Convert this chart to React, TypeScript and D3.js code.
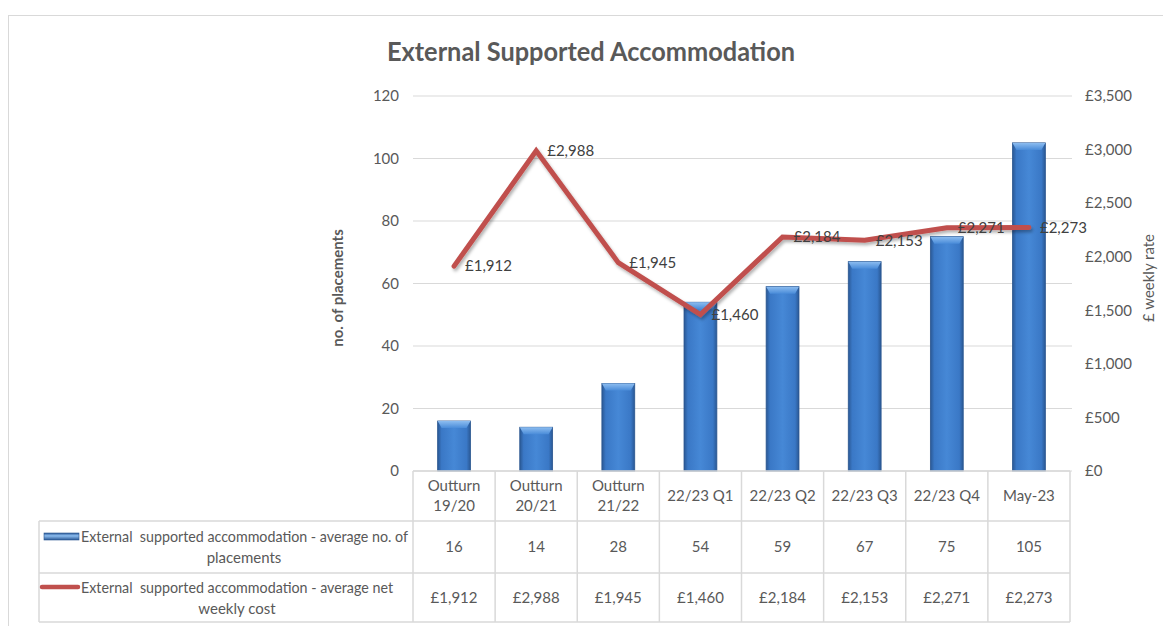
import React from "react";
import * as d3 from "d3";

const categories = [
  ["Outturn", "19/20"],
  ["Outturn", "20/21"],
  ["Outturn", "21/22"],
  ["22/23 Q1"],
  ["22/23 Q2"],
  ["22/23 Q3"],
  ["22/23 Q4"],
  ["May-23"],
];
const placements = [16, 14, 28, 54, 59, 67, 75, 105];
const weeklyCost = [1912, 2988, 1945, 1460, 2184, 2153, 2271, 2273];
const leftTicks = [0, 20, 40, 60, 80, 100, 120];
const rightTicks = [0, 500, 1000, 1500, 2000, 2500, 3000, 3500];
const seriesNames = [
  ["External  supported accommodation - average no. of", "placements"],
  ["External  supported accommodation - average net", "weekly cost"],
];
const title = "External Supported Accommodation";
const leftAxisTitle = "no. of placements";
const rightAxisTitle = "£ weekly rate";

const FONT = "Lato, 'Open Sans', sans-serif";
const TXT = "#595959";
const GRID = "#D9D9D9";

export default function App() {
  const left = 413;
  const right = 1070;
  const top = 96;
  const bottom = 471;
  const keys = categories.map((c) => c.join(" "));
  const x = d3.scaleBand().domain(keys).range([left, right]).padding(0);
  const yL = d3.scaleLinear().domain([0, 120]).range([bottom, top]);
  const yR = d3.scaleLinear().domain([0, 3500]).range([bottom, top]);
  const bw = x.bandwidth() * 0.4;
  const cx = (i: number) => (x(keys[i]) as number) + x.bandwidth() / 2;
  const money = (v: number) => "£" + d3.format(",")(v);

  const line = d3
    .line<number>()
    .x((_, i) => cx(i))
    .y((d) => yR(d));

  const tableLeft = 39;
  const rowTops = [bottom, 521, 573, 622];
  const colEdges = keys.map((k) => x(k) as number).concat([right]);

  return (
    <svg
      width={1163}
      height={626}
      style={{ position: "absolute", left: 0, top: 0, background: "#fff" }}
      fontFamily={FONT}
    >
      <defs>
        <linearGradient id="barGrad" x1="0" x2="1" y1="0" y2="0">
          <stop offset="0%" stopColor="#2A5894" />
          <stop offset="12%" stopColor="#3A78C6" />
          <stop offset="50%" stopColor="#4688D6" />
          <stop offset="88%" stopColor="#3A78C6" />
          <stop offset="100%" stopColor="#2A5894" />
        </linearGradient>
        <linearGradient id="barTop" x1="0" x2="0" y1="0" y2="1">
          <stop offset="0%" stopColor="#8DBDF0" />
          <stop offset="100%" stopColor="#4A8CD9" />
        </linearGradient>
        <linearGradient id="legGrad" x1="0" x2="0" y1="0" y2="1">
          <stop offset="0%" stopColor="#2A5894" />
          <stop offset="40%" stopColor="#8CBDF0" />
          <stop offset="100%" stopColor="#2A5894" />
        </linearGradient>
        <filter id="shadow" x="-10%" y="-10%" width="120%" height="130%">
          <feDropShadow dx="1.5" dy="2.5" stdDeviation="1.5" floodColor="#000" floodOpacity="0.3" />
        </filter>
      </defs>

      <rect x={8.5} y={15.5} width={1170} height={640} fill="#fff" stroke="#D9D9D9" />

      <text
        x={591}
        y={61}
        textAnchor="middle"
        fontSize={26}
        fontWeight="bold"
        fill={TXT}
        textLength={408}
        lengthAdjust="spacingAndGlyphs"
      >
        {title}
      </text>

      {/* gridlines */}
      {leftTicks.map((t) => (
        <line key={t} x1={left} x2={right + 2} y1={yL(t)} y2={yL(t)} stroke={GRID} strokeWidth={1.2} />
      ))}
      {leftTicks.map((t) => (
        <text key={"l" + t} x={399} y={yL(t)} dy="0.35em" textAnchor="end" fontSize={15} fill={TXT}>
          {t}
        </text>
      ))}
      {rightTicks.map((t) => (
        <text key={"r" + t} x={1085} y={yR(t)} dy="0.35em" textAnchor="start" fontSize={15} fill={TXT}>
          {money(t)}
        </text>
      ))}
      <text
        transform={`translate(343,288) rotate(-90)`}
        textAnchor="middle"
        fontSize={15}
        fontWeight="bold"
        fill={TXT}
      >
        {leftAxisTitle}
      </text>
      <text
        transform={`translate(1154,278) rotate(-90)`}
        textAnchor="middle"
        fontSize={15}
        fill={TXT}
      >
        {rightAxisTitle}
      </text>

      {/* bars */}
      {placements.map((v, i) => {
        const bx = cx(i) - bw / 2;
        const by = yL(v);
        const h = bottom - by;
        const bev = Math.min(7, h / 2);
        return (
          <g key={i}>
            <rect x={bx} y={by} width={bw} height={h} fill="url(#barGrad)" stroke="#2A5690" strokeWidth={0.8} />
            <path
              d={`M${bx},${by} L${bx + bw},${by} L${bx + bw - 4},${by + bev} L${bx + 4},${by + bev} Z`}
              fill="url(#barTop)"
            />
          </g>
        );
      })}

      {/* line */}
      <path
        d={line(weeklyCost) as string}
        fill="none"
        stroke="#C0504D"
        strokeWidth={5}
        strokeLinejoin="miter"
        strokeLinecap="round"
        filter="url(#shadow)"
      />
      {weeklyCost.map((v, i) => (
        <text key={"d" + i} x={cx(i) + 11} y={yR(v)} dy="0.35em" fontSize={15} fill="#404040">
          {money(v)}
        </text>
      ))}

      {/* data table */}
      <g stroke={GRID} strokeWidth={1.5}>
        <line x1={left} x2={right} y1={bottom} y2={bottom} />
        {rowTops.slice(1).map((y) => (
          <line key={y} x1={tableLeft} x2={right} y1={y} y2={y} />
        ))}
        <line x1={tableLeft} x2={tableLeft} y1={rowTops[1]} y2={rowTops[3]} />
        {colEdges.map((xe, i) => (
          <line key={i} x1={xe} x2={xe} y1={bottom} y2={rowTops[3]} />
        ))}
      </g>
      {categories.map((c, i) =>
        c.length === 2 ? (
          <g key={"c" + i}>
            <text x={cx(i)} y={486} dy="0.35em" textAnchor="middle" fontSize={15} fill={TXT}>
              {c[0]}
            </text>
            <text x={cx(i)} y={506} dy="0.35em" textAnchor="middle" fontSize={15} fill={TXT}>
              {c[1]}
            </text>
          </g>
        ) : (
          <text key={"c" + i} x={cx(i)} y={496} dy="0.35em" textAnchor="middle" fontSize={15} fill={TXT}>
            {c[0]}
          </text>
        )
      )}
      {placements.map((v, i) => (
        <text key={"p" + i} x={cx(i)} y={547} dy="0.35em" textAnchor="middle" fontSize={15} fill={TXT}>
          {v}
        </text>
      ))}
      {weeklyCost.map((v, i) => (
        <text key={"w" + i} x={cx(i)} y={598} dy="0.35em" textAnchor="middle" fontSize={15} fill={TXT}>
          {money(v)}
        </text>
      ))}

      {/* legend keys */}
      <rect x={44} y={533} width={35} height={7} fill="url(#legGrad)" stroke="#2A5690" strokeWidth={0.6} />
      <line x1={42} x2={78} y1={587} y2={587} stroke="#C0504D" strokeWidth={4.5} strokeLinecap="round" />
      <text
        x={81}
        y={536.5}
        dy="0.35em"
        fontSize={15}
        fill={TXT}
        textLength={327}
        lengthAdjust="spacingAndGlyphs"
        style={{ whiteSpace: "pre" }}
      >
        {seriesNames[0][0]}
      </text>
      <text x={244} y={558} dy="0.35em" textAnchor="middle" fontSize={15} fill={TXT}>
        {seriesNames[0][1]}
      </text>
      <text
        x={81}
        y={588}
        dy="0.35em"
        fontSize={15}
        fill={TXT}
        textLength={312}
        lengthAdjust="spacingAndGlyphs"
        style={{ whiteSpace: "pre" }}
      >
        {seriesNames[1][0]}
      </text>
      <text x={237} y={609} dy="0.35em" textAnchor="middle" fontSize={15} fill={TXT}>
        {seriesNames[1][1]}
      </text>
    </svg>
  );
}
